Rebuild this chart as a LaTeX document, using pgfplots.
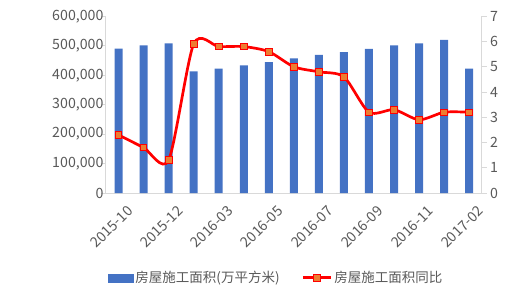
\documentclass[border=0pt]{standalone}
\usepackage{pgfplots}
\pgfplotsset{compat=1.18}
\usepackage{pgfplotstable}
\usepackage{fontspec}
\setmainfont{Noto Sans CJK SC}
\definecolor{barblue}{HTML}{4472C4}
\definecolor{mkorange}{HTML}{ED7D31}
\definecolor{axgray}{HTML}{D9D9D9}
\definecolor{txtgray}{HTML}{595959}
\pgfplotsset{lineleg/.style={legend image code/.code={\draw[mark repeat=2, mark phase=2, ##1] plot coordinates {(0bp,0bp) (14bp,0bp) (28bp,0bp)};}},
  barleg/.style={legend image code/.code={\fill[barblue] (0bp,-4bp) rectangle (25bp,4bp);}}}

\pgfplotstableread{
x val yoy
0 490000 2.3
1 501000 1.8
2 508000 1.3
3 413000 5.9
4 422000 5.8
5 433000 5.8
6 444000 5.6
7 457000 5.0
8 469000 4.8
9 478000 4.6
10 489000 3.2
11 501000 3.3
12 508000 2.9
13 520000 3.2
14 422000 3.2
}\data

\begin{document}
\begin{tikzpicture}
\path[use as bounding box] (-106bp,-104bp) rectangle (426bp,193bp);
\pgfplotsset{every axis/.append style={
  scale only axis, width=375.7bp, height=176.7bp,
  at={(0,0)}, anchor=south west,
  xmin=-0.5, xmax=14.5,
  font=\fontsize{13.5bp}{15bp}\selectfont,
  tick label style={text=txtgray, font=\fontsize{14.2bp}{16bp}\selectfont},
  /pgf/number format/assume math mode=true,
  axis line style={axgray, line width=1bp},
  tick style={axgray, line width=1bp},
  tick align=outside,
  major tick length=5bp,
}}
\begin{axis}[
  axis x line*=bottom, axis y line*=left,
  ymin=0, ymax=600000,
  ytick={0,100000,200000,300000,400000,500000,600000},
  scaled y ticks=false,
  yticklabel style={/pgf/number format/.cd, fixed, 1000 sep={,}, /tikz/.cd, xshift=6bp},
  xtick={0,2,4,6,8,10,12,14},
  xticklabels={2015-10,2015-12,2016-03,2016-05,2016-07,2016-09,2016-11,2017-02},
  xticklabel style={rotate=45, anchor=north east, inner sep=1bp, yshift=-9bp, xshift=2bp},
  x tick style={draw=none},
  ybar, bar width=8bp,
]
\addplot[fill=barblue, draw=none] table[x=x, y=val] {\data};
\end{axis}
\begin{axis}[
  axis x line=none, axis y line*=right,
  ymin=0, ymax=7,
  ytick={0,1,2,3,4,5,6,7},
  legend style={draw=none, fill=none, at={(0.453,-0.48)}, anchor=center,
    legend columns=2, text=txtgray, font=\fontsize{13.5bp}{15bp}\selectfont,
    /tikz/every even column/.append style={column sep=20bp}},
]
\addlegendimage{barleg}
\addlegendentry{房屋施工面积(万平方米)}
\addplot[red, line width=2.7bp, smooth, tension=0.45, mark=square*, mark size=3.3bp,
  mark options={fill=mkorange, draw=red, line width=0.8bp, solid}, lineleg
] table[x=x, y=yoy] {\data};
\addlegendentry{房屋施工面积同比}
\end{axis}
\end{tikzpicture}
\end{document}
